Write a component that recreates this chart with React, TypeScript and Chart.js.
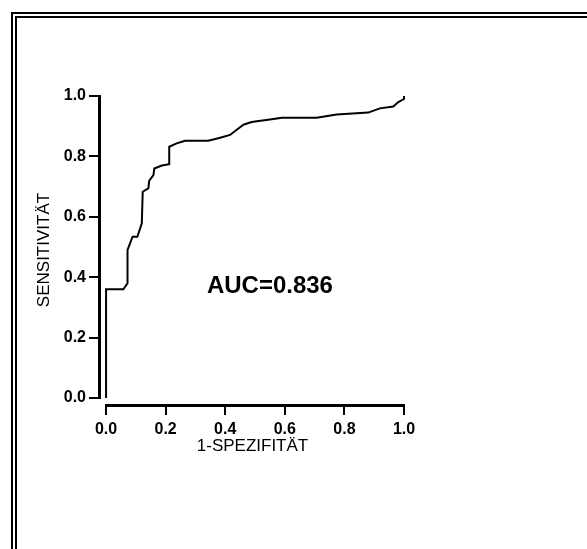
import React, { useEffect, useRef } from "react";
import { Chart, registerables } from "chart.js";

Chart.register(...registerables);

// ROC curve points: 1 - specificity (x) and sensitivity (y)
const fprValues = [
  0, 0, 0.058, 0.072, 0.072, 0.089, 0.105, 0.12, 0.123, 0.142, 0.145, 0.159,
  0.162, 0.187, 0.212, 0.212, 0.237, 0.265, 0.343, 0.383, 0.416, 0.461, 0.483,
  0.494, 0.556, 0.59, 0.707, 0.774, 0.88, 0.919, 0.964, 0.981, 1.0, 1.0,
];
const tprValues = [
  0, 0.36, 0.36, 0.38, 0.49, 0.534, 0.534, 0.578, 0.683, 0.694, 0.72, 0.738,
  0.76, 0.77, 0.774, 0.832, 0.843, 0.852, 0.852, 0.862, 0.871, 0.905, 0.912,
  0.915, 0.923, 0.928, 0.928, 0.939, 0.945, 0.959, 0.965, 0.98, 0.99, 1.0,
];
const tickValues = [0, 0.2, 0.4, 0.6, 0.8, 1.0];
const xTitle = "1-SPEZIFITÄT";
const yTitle = "SENSITIVITÄT";
const aucLabel = "AUC=0.836";
const aucAnchor = { x: 0.55, y: 0.37 };

const FONT = "'Liberation Sans', Arial, Helvetica, sans-serif";

const offsetAxesPlugin = {
  id: "offsetAxes",
  afterDraw(chart: any) {
    const { ctx, chartArea } = chart;
    const xs = chart.scales.x;
    const ys = chart.scales.y;
    ctx.save();
    ctx.strokeStyle = "#000";
    ctx.lineWidth = 3;
    ctx.lineCap = "butt";
    // y axis
    const yAxisX = chartArea.left - 1.5;
    ctx.beginPath();
    ctx.moveTo(yAxisX, ys.getPixelForValue(1) - 1);
    ctx.lineTo(yAxisX, ys.getPixelForValue(0) + 1);
    ctx.stroke();
    // x axis
    const xAxisY = chartArea.bottom + 1.5;
    ctx.beginPath();
    ctx.moveTo(xs.getPixelForValue(0) - 1, xAxisY);
    ctx.lineTo(xs.getPixelForValue(1) + 1, xAxisY);
    ctx.stroke();
    // AUC annotation
    ctx.fillStyle = "#000";
    ctx.font = `bold 24px ${FONT}`;
    ctx.textAlign = "center";
    ctx.textBaseline = "middle";
    ctx.fillText(aucLabel, xs.getPixelForValue(aucAnchor.x), ys.getPixelForValue(aucAnchor.y));
    ctx.restore();
  },
};

export default function App() {
  const canvasRef = useRef<HTMLCanvasElement | null>(null);

  useEffect(() => {
    if (!canvasRef.current) return;
    const points = fprValues.map((x, i) => ({ x, y: tprValues[i] }));
    const chart = new Chart(canvasRef.current, {
      type: "scatter",
      data: {
        datasets: [
          {
            data: points,
            showLine: true,
            borderColor: "#000",
            borderWidth: 2,
            pointRadius: 0,
            fill: false,
            tension: 0,
            clip: false as any,
          },
        ],
      },
      plugins: [offsetAxesPlugin],
      options: {
        animation: false,
        responsive: false,
        events: [],
        layout: { padding: { left: 0, top: 96, right: 183, bottom: 85 } },
        plugins: { legend: { display: false }, tooltip: { enabled: false } },
        scales: {
          x: {
            type: "linear",
            min: -0.017,
            max: 1,
            afterFit: (s: any) => {
              s.height = 60;
            },
            afterBuildTicks: (s: any) => {
              s.ticks = tickValues.map((v) => ({ value: v }));
            },
            border: { display: false },
            grid: {
              display: true,
              drawOnChartArea: false,
              drawTicks: true,
              tickLength: 11,
              lineWidth: 2,
              color: "#000",
            },
            ticks: {
              color: "#000",
              padding: 5,
              maxRotation: 0,
              font: { family: FONT, size: 16, weight: "bold" },
              callback: (v: any) => Number(v).toFixed(1),
            },
            title: {
              display: true,
              text: xTitle,
              color: "#000",
              font: { family: FONT, size: 17 },
              padding: { top: 0, bottom: 7 },
            },
          },
          y: {
            type: "linear",
            min: -0.02,
            max: 1,
            afterFit: (s: any) => {
              s.width = 101;
            },
            afterBuildTicks: (s: any) => {
              s.ticks = tickValues.map((v) => ({ value: v }));
            },
            border: { display: false },
            grid: {
              display: true,
              drawOnChartArea: false,
              drawTicks: true,
              tickLength: 12,
              lineWidth: 2,
              color: "#000",
            },
            ticks: {
              color: "#000",
              padding: 3,
              font: { family: FONT, size: 16, weight: "bold" },
              callback: (v: any) => Number(v).toFixed(1),
            },
            title: {
              display: true,
              text: yTitle,
              color: "#000",
              font: { family: FONT, size: 17 },
              padding: { top: 34, bottom: 0 },
            },
          },
        },
      },
    });
    return () => chart.destroy();
  }, []);

  return (
    <div
      style={{
        position: "fixed",
        left: 0,
        top: 0,
        width: 587,
        height: 549,
        overflow: "hidden",
        background: "#fff",
      }}
    >
      <div
        style={{
          position: "absolute",
          left: 11,
          top: 12,
          width: 700,
          height: 700,
          border: "6px double #000",
          boxSizing: "border-box",
        }}
      />
      <canvas
        ref={canvasRef}
        width={587}
        height={549}
        style={{ position: "absolute", left: 0, top: 0, width: 587, height: 549 }}
      />
    </div>
  );
}
